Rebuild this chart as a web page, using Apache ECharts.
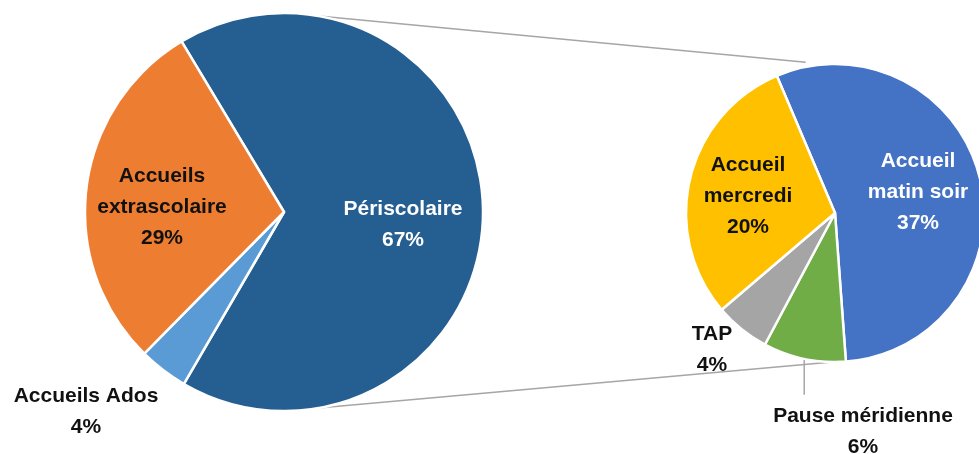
<!DOCTYPE html>
<html>
<head>
<meta charset="utf-8">
<script src="https://cdn.jsdelivr.net/npm/echarts@6/dist/echarts.min.js"></script>
<style>
  html, body { margin: 0; padding: 0; background: #fff; }
  #chart { width: 979px; height: 454px; }
</style>
</head>
<body>
<div id="chart"></div>
<script>
// données
var outerNames = ['Périscolaire', 'Accueils Ados', 'Accueils extrascolaire'];
var outerValues = [67, 4, 29];
var outerColors = ['#255E91', '#5B9BD5', '#ED7D31'];

var innerNames = ['Accueil matin soir', 'Pause méridienne', 'TAP', 'Accueil mercredi'];
var innerValues = [37, 6, 4, 20];
var innerColors = ['#4472C4', '#70AD47', '#A5A5A5', '#FFC000'];

// géométrie des deux camemberts
var left = { cx: 284, cy: 212, r: 199, start: 121 };
var right = { cx: 835, cy: 213, r: 149, start: 113 };

// position des étiquettes (décalage par rapport au centre), out = étiquette à l'extérieur
var leftLabels = [
  { dx: 119, dy: 13, out: false, color: '#fff' },
  { dx: -198, dy: 200, out: true, color: '#111' },
  { dx: -122, dy: -5, out: false, color: '#111' }
];
var rightLabels = [
  { dx: 83, dy: -21, out: false, color: '#fff' },
  { dx: 28, dy: 219, out: true, color: '#111', line: true },
  { dx: -123, dy: 137, out: true, color: '#111' },
  { dx: -87, dy: -17, out: false, color: '#111' }
];

function buildData(names, values, colors, labels) {
  var data = [];
  for (var i = 0; i < names.length; i++) {
    data.push({
      name: names[i],
      value: values[i],
      itemStyle: { color: colors[i] },
      label: { color: labels[i].color },
      labelLine: { show: !!labels[i].line }
    });
  }
  return data;
}

function layoutFor(pie, labels) {
  return function (p) {
    var l = labels[p.dataIndex];
    var res = {
      x: pie.cx + l.dx,
      y: pie.cy + l.dy,
      align: 'center',
      verticalAlign: 'middle'
    };
    if (l.line && p.labelLinePoints) {
      var s = p.labelLinePoints[0];
      res.labelLinePoints = [s, [s[0], s[1] + 36], [s[0], s[1] + 36]];
    }
    return res;
  };
}

function labelText(labels) {
  return function (p) {
    var n = p.name;
    if (!labels[p.dataIndex].out) n = n.replace(' ', '\n');
    return n + '\n' + p.value + '%';
  };
}

function edgePoint(pie, angle, k) {
  var a = angle * Math.PI / 180;
  return [pie.cx + pie.r * k * Math.cos(a), pie.cy - pie.r * k * Math.sin(a)];
}

var labelStyle = {
  fontFamily: 'Liberation Sans',
  fontWeight: 'bold',
  fontSize: 21,
  lineHeight: 31
};

var p1 = edgePoint(left, 80, 1.0), p2 = edgePoint(right, 101, 1.03);
var p3 = edgePoint(left, -80, 1.0), p4 = edgePoint(right, -91, 1.0);

var myChart = echarts.init(document.getElementById('chart'));
myChart.setOption({
  backgroundColor: '#fff',
  animation: false,
  graphic: [
    { type: 'line', z: 0, shape: { x1: p1[0], y1: p1[1], x2: p2[0], y2: p2[1] }, style: { stroke: '#A6A6A6', lineWidth: 1.5 } },
    { type: 'line', z: 0, shape: { x1: p3[0], y1: p3[1], x2: p4[0], y2: p4[1] }, style: { stroke: '#A6A6A6', lineWidth: 1.5 } }
  ],
  series: [
    {
      type: 'pie',
      center: [left.cx, left.cy],
      radius: left.r,
      startAngle: left.start,
      clockwise: true,
      avoidLabelOverlap: false,
      itemStyle: { borderColor: '#fff', borderWidth: 2.5 },
      label: Object.assign({ show: true, position: 'outside', formatter: labelText(leftLabels) }, labelStyle),
      labelLine: { show: false },
      labelLayout: layoutFor(left, leftLabels),
      emphasis: { disabled: true },
      data: buildData(outerNames, outerValues, outerColors, leftLabels)
    },
    {
      type: 'pie',
      center: [right.cx, right.cy],
      radius: right.r,
      startAngle: right.start,
      clockwise: true,
      avoidLabelOverlap: false,
      itemStyle: { borderColor: '#fff', borderWidth: 2.5 },
      label: Object.assign({ show: true, position: 'outside', formatter: labelText(rightLabels) }, labelStyle),
      labelLine: { show: false, length: 10, length2: 10, lineStyle: { color: '#A6A6A6', width: 1.5 } },
      labelLayout: layoutFor(right, rightLabels),
      emphasis: { disabled: true },
      data: buildData(innerNames, innerValues, innerColors, rightLabels)
    }
  ]
});
</script>
</body>
</html>
